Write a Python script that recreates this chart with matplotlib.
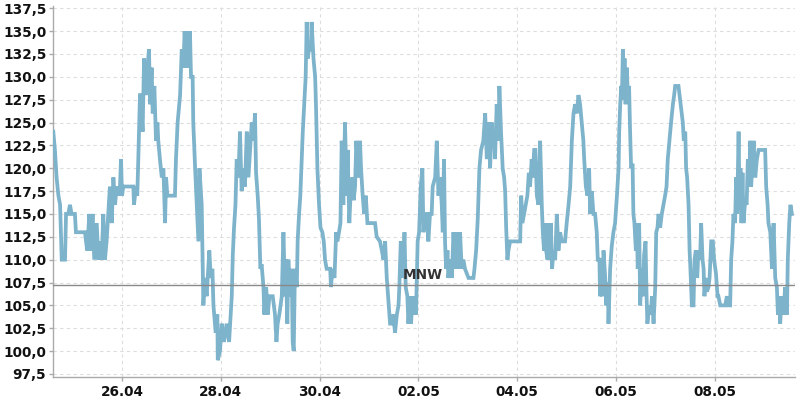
import matplotlib
matplotlib.use("Agg")
import matplotlib.pyplot as plt
import matplotlib.dates as mdates
from matplotlib.ticker import FuncFormatter, MultipleLocator
import pandas as pd
import numpy as np

# ---- data (hours after 24.04 14:36, water level) ----
start_time = "2024-04-24 14:36"
hours = [
    0.0, 0.8, 1.6, 2.5, 3.3, 4.1, 5.7, 6.2, 7.3, 8.1, 8.9, 10.5, 11.0, 15.4, 15.9, 16.5, 17.5, 18.2, 19.1, 19.9,
    21.1, 21.9, 22.7, 23.5, 24.3, 25.1, 25.9, 26.7, 27.5, 28.4, 29.2, 30.0, 30.8, 31.6, 32.4, 32.9, 33.4, 34.0, 38.9, 39.2,
    40.2, 40.8, 41.3, 42.1, 42.5, 43.4, 44.1, 44.9, 45.7, 46.5, 47.0, 47.8, 48.3, 49.1, 49.9, 50.6, 51.0, 51.8, 52.7, 53.5,
    54.3, 54.8, 55.4, 59.1, 59.6, 60.4, 61.6, 62.4, 63.2, 63.8, 64.6, 65.3, 65.9, 66.4, 66.9, 67.7, 68.0, 68.9, 69.7, 70.5,
    71.0, 72.1, 72.6, 72.9, 73.7, 74.5, 75.8, 76.5, 77.3, 77.8, 78.9, 79.7, 79.9, 81.0, 81.8, 82.9, 84.2, 85.4, 85.9, 86.7,
    87.2, 87.8, 88.5, 89.1, 89.9,
    90.7, 91.5, 92.3, 93.1, 94.0, 94.8, 95.6, 96.4, 97.2, 98.0, 98.5, 99.3, 99.9, 100.6, 101.2, 102.1, 102.5, 103.4, 104.2, 105.0,
    106.6, 107.7, 108.4, 109.0, 109.8, 111.0, 111.8, 112.6, 112.9, 113.7, 114.2, 115.0, 115.8, 116.3, 116.8, 117.4, 118.3, 118.7,
    119.4, 120.0, 120.7, 121.2, 122.0, 122.6, 123.1, 123.6, 124.2, 125.1, 125.5, 126.4, 127.2, 127.6, 128.3, 129.1, 129.8, 130.7,
    131.4, 132.0, 132.8, 134.5, 134.9, 135.6, 136.6, 137.4, 138.0, 138.8, 139.5, 140.1, 140.9, 141.7, 142.6, 143.0, 143.8, 144.5,
    145.3, 145.9, 146.6, 147.2, 148.2, 149.0, 149.5, 150.3, 151.0, 151.8, 152.6, 156.3, 157.1, 158.7, 159.6, 160.4, 161.2, 162.0,
    162.8, 163.6, 164.4, 165.2, 166.0, 166.9, 167.7, 168.1, 168.8, 169.8, 170.6, 171.2, 172.0, 172.5, 173.3, 173.8, 174.5, 174.9,
    175.8, 176.2, 177.0, 177.7, 178.5, 179.3,
    179.8, 180.6, 181.4, 182.2, 183.0, 183.8, 184.3, 185.5, 186.3, 187.1, 187.9, 188.7, 189.2, 189.8, 190.3, 190.8, 191.5, 191.9,
    192.8, 193.6, 194.4, 195.2, 196.0, 196.8, 197.6, 198.4, 199.2, 200.0, 201.7, 204.1, 204.6, 205.4, 206.2, 207.0, 207.8, 208.9,
    209.8, 210.6, 211.4, 212.2, 213.0, 213.5, 214.1, 214.6, 215.4, 216.2, 216.7, 217.5, 218.3, 219.0, 219.5, 220.0, 220.6, 221.1,
    221.9, 226.8, 227.3, 227.9, 228.7, 229.5, 230.3, 231.0, 231.6, 232.4, 232.9, 233.6, 234.2, 234.9, 235.7, 236.5, 237.3, 237.8,
    238.4, 238.9, 239.4, 240.1, 240.5, 241.0, 241.7, 242.3, 243.0, 243.8, 244.6, 245.4, 246.2, 247.0, 248.6, 249.4, 250.3, 251.1,
    251.9, 252.7, 253.5, 254.3, 255.1, 255.9, 256.7, 257.5, 257.9, 258.7, 259.5, 260.3, 260.8, 261.6, 262.4, 263.2, 264.0, 264.5,
    265.3, 265.6, 266.1, 266.6, 267.3, 268.1, 268.6, 269.4, 269.7,
    270.5, 271.3, 272.1, 272.9, 273.8, 274.6, 274.9, 275.4, 275.9, 276.2, 276.7, 277.0, 277.5, 278.0, 278.6, 279.1, 279.7, 280.2,
    280.7, 281.4, 281.8, 282.3, 283.0, 283.5, 283.9, 284.6, 285.1, 285.9, 286.4, 287.0, 287.7, 288.2, 288.6, 289.5, 290.3, 290.8,
    291.6, 292.4, 292.9, 293.5, 294.0, 294.8, 295.6, 296.4, 297.2, 297.9, 298.5, 299.3, 300.1, 301.0, 301.6, 302.1, 303.7, 304.5,
    305.3, 305.8, 306.3, 307.0, 307.4, 307.9, 308.6, 309.1, 309.5, 310.2, 311.0, 311.5, 312.1, 312.8, 313.4, 314.2, 314.7, 315.4,
    315.9, 316.3, 317.0, 317.5, 318.3, 318.8, 319.6, 320.4, 321.0, 321.9, 322.7, 323.1, 324.0, 326.4, 327.2, 328.0, 328.8, 329.3,
    329.9, 330.4, 331.2, 331.7, 332.2, 332.9, 333.4, 333.8, 334.3, 334.8, 335.3, 336.1, 336.8, 337.4, 338.1, 338.5, 339.0, 339.5,
    340.2, 341.0, 341.8, 342.6, 345.8, 346.3, 347.0, 347.4, 348.3, 349.1, 349.9, 350.7, 351.5, 352.0, 352.6, 353.1, 353.9, 354.7,
    355.5, 356.4, 356.8, 357.5, 358.1, 358.8,
]
levels = [
    124, 122, 119, 117, 116, 110, 110, 115, 115, 116, 115, 115, 113, 113, 112, 111, 115, 111, 115, 110,
    114, 110, 112, 110, 115, 110, 112, 115, 118, 114, 119, 116, 118, 117, 118, 121, 117, 118, 118, 116,
    118, 117, 121, 128, 128, 124, 132, 128, 131, 133, 127, 131, 126, 129, 123, 125, 123, 121, 119, 120,
    114, 119, 117, 117, 121, 125, 128, 133, 131, 135, 131, 135, 131, 135, 130, 130, 125, 120, 116, 112,
    120, 116, 109, 105, 108, 106, 111, 108, 109, 105, 102, 104, 99, 100, 103, 101, 103, 101, 103, 106,
    110.5, 113.5, 116, 121, 119,
    124, 117.5, 120, 118, 124, 119, 122, 125, 123, 126, 119.5, 117, 114.5, 109, 109.5, 107, 104, 107, 104, 106,
    106, 104, 101, 103, 104, 106, 113, 106, 110, 103, 110, 106, 109, 101, 100, 109, 107, 112,
    115, 117, 121, 124, 127.5, 130, 136, 132, 133, 133, 136, 132, 130, 127, 120, 116, 113.5, 113,
    112, 110, 109, 109, 107, 109, 108, 113, 112, 113, 114, 123, 116, 125, 117, 122, 114, 117.5,
    119, 116.5, 118, 123, 119, 123, 120, 117, 115, 117, 114, 114, 112.5, 112, 111, 110, 112, 108,
    105.5, 103, 103, 104, 102, 104, 105, 107, 112, 108, 113, 107, 106, 103, 106, 103, 106, 104,
    106, 104, 112, 113, 118, 120,
    113, 115, 115, 112, 115, 115, 118, 119, 123, 117, 119, 116, 113, 121, 112, 109, 111, 108,
    110, 108, 113, 109, 113, 109, 113, 109, 110, 109, 108, 108, 109, 111, 114.5, 120, 122, 123,
    126, 121, 125, 120, 125, 122.5, 124, 121, 127, 123, 129, 124, 120, 119, 117.5, 113.5, 110, 111,
    112, 112, 117, 114, 115, 116, 117, 119.5, 118, 121, 119, 122, 122, 117, 116, 123, 116, 113,
    111, 114, 111, 110, 114, 110, 114, 109, 111, 110, 115, 111, 113, 112, 112, 114, 116, 118,
    123, 126, 127, 126, 128, 127, 125, 123, 121, 118, 117, 120, 115, 117.5, 115, 115, 113, 110,
    110, 106, 109, 106, 111, 108, 105, 107.5, 103,
    109, 111.5, 113, 114, 117, 120, 124, 127, 129, 127.5, 133, 128, 132, 127, 131, 128, 129, 124,
    120, 120.5, 115, 114, 111, 114, 109, 114, 105, 109, 106, 110.5, 112, 106, 103, 105, 104, 106,
    103, 107, 113, 113.5, 115, 113.5, 115, 116, 117, 118, 121, 123, 125, 127, 128, 129, 129, 127.5,
    126, 125, 123, 124, 120, 119, 116, 111, 109, 105, 105, 110, 111, 108, 111, 110, 114, 110,
    109, 106, 108, 106.5, 107, 108, 112, 112, 110, 108.5, 106, 106, 105, 105, 106, 105, 105, 110,
    112, 115, 114, 119, 115, 124, 115.5, 120, 114, 119.5, 114, 116.5, 116, 121, 118, 123, 118, 120,
    123, 119, 121, 122, 122, 118, 116, 114, 113, 109, 114, 108, 107, 104, 106, 103, 106, 104,
    107, 104, 110, 114, 116, 115,
]
mnw_value = 107.2
mnw_label = "MNW"
xtick_dates = ["2024-04-26", "2024-04-28", "2024-04-30", "2024-05-02", "2024-05-04", "2024-05-06", "2024-05-08"]
x_end_hours = 360.4
y_min, y_max = 97.2, 137.75

t0 = pd.Timestamp(start_time)
times = t0 + pd.to_timedelta(np.array(hours), unit="h")

fig = plt.figure(figsize=(8, 4), dpi=100)
ax = fig.add_axes([0.0666, 0.0583, 0.9274, 0.9268])

ax.plot(times, levels, color="#7db3cb", lw=2.7, solid_joinstyle="miter", zorder=3)
ax.axhline(mnw_value, color="#8a8a8a", lw=1.0, zorder=4)
ax.text(0.4715, mnw_value + 0.35, mnw_label, transform=ax.get_yaxis_transform(),
        fontsize=9.8, fontweight="bold", color="#333333", ha="left", va="bottom", zorder=5)

ax.set_xlim(t0, t0 + pd.Timedelta(hours=x_end_hours))
ax.set_ylim(y_min, y_max)

ax.set_xticks(pd.to_datetime(xtick_dates))
ax.xaxis.set_major_formatter(mdates.DateFormatter("%d.%m"))
ax.yaxis.set_major_locator(MultipleLocator(2.5))
ax.yaxis.set_major_formatter(FuncFormatter(lambda v, p: f"{v:.1f}".replace(".", ",")))

ax.grid(True, color="#dddddd", linestyle=(0, (3, 3)), lw=0.8, zorder=0)
for s in ["top", "right"]:
    ax.spines[s].set_visible(False)
for s in ["left", "bottom"]:
    ax.spines[s].set_color("#aaaaaa")
    ax.spines[s].set_linewidth(1.0)
ax.tick_params(axis="both", colors="#aaaaaa", labelcolor="#111111", labelsize=9.8, length=3, width=1)
for lab in ax.get_xticklabels() + ax.get_yticklabels():
    lab.set_fontweight("bold")
ax.tick_params(axis="x", pad=3)
ax.tick_params(axis="y", pad=2)

fig.savefig("out.png", dpi=100)
